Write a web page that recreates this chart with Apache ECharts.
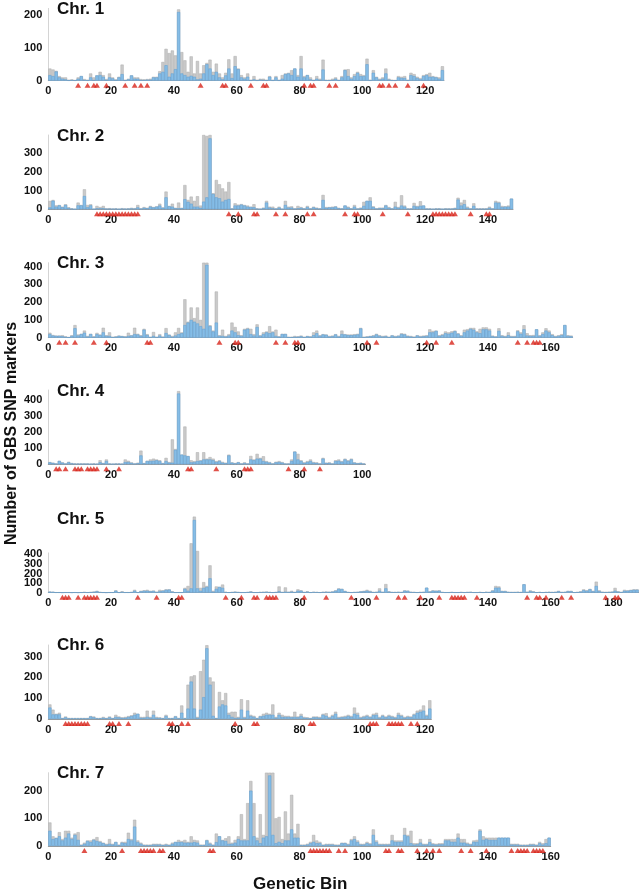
<!DOCTYPE html>
<html><head><meta charset="utf-8">
<script src="https://cdn.jsdelivr.net/npm/echarts@6/dist/echarts.min.js"></script>
<style>html,body{margin:0;padding:0;background:#fff}#c{width:644px;height:893px}</style>
</head><body><div id="c"></div>
<script>
// ---- data: total markers per bin (gray), subset (blue), bins with red triangles ----
const chr1All = [37,34,30,14,10,10,3,4,2,10, 14,5,3,22,10,16,27,17,5,22, 10,4,12,49,3,6,16,10,10,5, 4,5,6,12,12,29,57,97,84,92,
 77,217,87,62,27,74,22,60,22,47, 54,64,27,52,22,10,24,65,22,75, 37,17,10,22,3,14,3,6,6,3, 14,3,14,3,17,22,24,32,37,17,
 75,14,17,10,3,14,6,64,3,3, 6,10,3,14,34,35,10,20,27,20, 17,67,3,32,12,6,10,37,6,3, 2,14,12,14,3,24,20,12,8,17, 20,24,14,12,10,44];
const chr1Sub = [17,14,28,10,6,4,1,2,1,6, 14,2,1,10,2,16,17,12,2,10, 7,2,10,20,1,4,16,6,6,2, 2,3,3,10,10,22,27,47,12,22,
 35,209,22,17,12,15,12,4,6,22, 50,37,17,27,10,4,16,37,8,44, 35,10,6,12,1,4,1,3,2,1, 12,1,10,1,6,20,22,17,37,12,
 37,10,17,4,1,6,2,34,1,1, 2,6,1,10,32,14,6,14,24,14, 14,50,1,24,10,3,6,22,3,1, 1,10,8,8,1,17,14,8,4,14, 17,12,12,10,6,32];
const chr1Tri = [9,12,14,15,18,24,27,29,31,48,55,56,64,68,69,81,83,84,89,91,105,106,108,110,114,119];

const chr2All = [45,50,21,23,14,27,11,5,2,36, 23,107,23,27,3,18,12,18,5,6, 4,5,3,6,4,5,8,6,23,5, 12,8,18,12,16,30,10,95,18,30,
 8,36,8,130,50,68,45,70,20,398, 393,398,86,157,134,112,95,146,5,32, 25,28,23,20,14,27,5,3,9,45, 14,14,5,14,3,45,14,16,5,18,
 12,5,18,5,14,9,5,77,12,12, 14,16,8,5,20,14,5,23,5,9, 40,45,64,16,5,9,9,23,12,5, 40,12,75,20,5,5,34,18,43,20,
 5,5,3,5,5,3,5,5,5,8, 62,36,50,14,5,32,5,5,5,5, 14,5,45,40,18,16,20,57];
const chr2Sub = [10,46,14,21,11,23,7,3,1,21, 21,71,11,21,1,5,5,5,2,3, 2,3,1,3,2,3,4,3,10,2, 8,5,14,10,14,20,8,64,16,14,
 5,5,5,54,40,30,14,14,8,41, 64,380,82,64,59,41,50,55,2,20, 20,25,20,14,12,11,2,1,5,36, 9,5,2,9,1,23,9,9,2,5,
 8,3,12,3,10,5,3,50,8,10, 10,14,5,3,20,9,3,14,2,5, 18,45,45,12,3,5,5,20,8,3, 14,8,20,14,2,2,18,14,18,20,
 2,2,1,3,3,1,3,2,2,5, 52,20,27,8,2,18,2,2,2,2, 8,2,36,34,12,14,14,57];
const chr2Tri = [15,16,17,18,19,20,21,22,23,24,25,26,27,28,57,60,65,66,72,75,82,84,94,97,98,106,114,122,123,124,125,126,127,128,129,134,139,140];

const chr3All = [28,15,12,12,14,8,4,14,71,18, 22,40,10,22,8,27,18,56,14,30, 5,8,12,10,8,28,14,56,22,14, 50,20,5,32,5,20,6,54,18,10,
 30,55,30,216,90,170,110,170,100,422, 422,70,40,260,14,45,10,20,85,60, 35,14,50,55,50,20,75,14,30,35, 65,35,45,8,22,22,5,5,10,8,
 12,5,10,8,30,40,14,20,18,10, 12,20,10,40,20,18,18,20,22,55, 5,8,10,14,22,14,10,12,5,14, 10,12,25,22,12,10,6,14,10,12,
 14,47,38,40,14,20,35,30,36,40, 25,14,45,48,55,55,36,50,58,58, 50,12,8,53,14,10,30,10,10,42, 30,70,25,14,15,47,14,30,53,40,
 20,10,14,20,71,14,12];
const chr3Sub = [20,12,10,10,8,4,2,10,53,12, 20,28,6,20,4,20,14,30,10,10, 3,5,10,8,5,10,12,20,18,10, 45,15,3,10,3,12,4,26,14,5,
 12,20,25,71,85,100,90,80,65,50, 410,65,35,85,10,10,6,12,40,30, 14,10,45,50,20,12,60,10,20,30, 25,30,10,5,20,20,3,3,5,5,
 8,3,8,5,14,25,10,18,16,6, 8,18,6,20,18,14,14,16,18,52, 3,5,8,10,18,10,6,8,3,12, 6,10,20,18,8,6,3,12,6,8,
 10,30,30,38,10,14,25,22,28,36, 22,10,30,40,50,45,30,25,47,47, 40,8,5,38,10,6,14,6,6,36, 22,47,12,10,10,47,10,20,40,30,
 14,6,10,14,71,10,8];
const chr3Tri = [3,5,8,14,18,31,32,54,59,60,72,75,78,79,101,104,120,123,128,149,152,154,155,156];

const chr4All = [14,10,5,22,12,5,16,8,5,5, 5,5,5,3,5,3,25,8,30,5, 3,5,5,3,30,22,12,5,10,85, 8,22,30,35,30,25,8,40,14,155,
 95,455,60,235,52,25,20,75,25,75, 35,45,35,20,25,15,10,60,12,8, 14,5,12,5,52,30,65,40,50,20, 14,5,16,20,14,5,5,30,80,65,
 25,12,20,30,14,12,5,40,10,12, 5,25,30,20,35,25,35,12,8,10, 5];
const chr4Sub = [12,8,3,20,10,3,12,5,3,3, 3,3,3,2,3,2,12,5,20,3, 2,3,3,2,14,14,8,3,6,55, 5,20,20,22,25,20,5,20,10,10,
 90,440,60,55,50,12,14,20,22,30, 30,30,25,15,20,10,6,55,10,5, 12,3,8,3,30,25,35,35,20,15, 10,3,12,14,10,3,3,20,78,30,
 20,8,14,20,10,8,3,35,8,8, 3,20,22,16,30,20,30,10,5,8, 3];
const chr4Tri = [2,3,5,8,9,10,12,13,14,15,18,22,44,45,53,62,63,64,76,81,86];

const chr5All = [12,10,5,5,3,5,5,3,5,3, 5,8,5,8,12,20,8,5,3,5, 5,25,5,15,5,5,8,30,5,20, 25,30,20,22,10,30,25,35,35,15,
 5,5,5,50,70,515,793,435,50,110, 70,285,20,65,60,85,10,5,8,12, 8,5,5,8,15,5,5,8,10,12, 8,5,8,65,8,55,10,20,8,35,
 25,8,15,5,10,8,5,10,12,10, 14,25,45,40,20,8,5,8,10,15, 20,30,20,8,10,45,10,90,15,8, 8,10,8,25,22,10,8,5,8,10,
 52,15,25,22,25,8,5,5,8,5, 5,8,5,8,10,5,5,8,5,10, 8,25,70,65,20,20,10,8,8,10, 8,87,10,25,15,5,8,5,8,10,
 8,10,20,8,10,20,20,5,8,15, 35,25,40,20,115,25,10,8,10,12, 50,15,8,30,25,30,35,35];
const chr5Sub = [10,8,3,3,2,3,3,2,3,2, 3,5,3,5,8,14,5,3,2,3, 3,20,3,8,3,3,5,20,3,14, 20,20,14,18,6,14,20,30,32,10,
 3,3,3,40,20,45,758,45,20,50, 60,150,10,40,60,50,5,3,5,8, 5,3,3,5,10,3,3,5,6,8, 5,3,5,15,5,10,6,10,5,20,
 20,5,10,3,6,5,3,6,8,6, 10,20,40,38,15,5,3,5,6,12, 14,20,12,5,6,20,6,45,10,5, 5,6,5,20,18,6,5,3,5,6,
 52,10,20,18,20,5,3,3,5,3, 3,5,3,5,6,3,3,5,3,6, 5,20,52,52,15,14,6,5,5,6, 5,87,6,15,10,3,5,3,5,6,
 5,6,14,5,6,14,14,3,5,10, 25,20,35,14,70,15,6,5,6,8, 20,10,5,20,20,25,30,30];
const chr5Tri = [4,5,6,9,11,12,13,14,15,28,34,41,42,56,61,65,66,69,70,71,72,81,88,96,104,111,113,118,124,128,129,130,131,132,136,152,155,156,158,163,166,177,180,181];

const chr6All = [70,45,25,30,5,12,5,5,5,5, 5,5,5,14,12,5,5,10,5,12, 5,20,12,8,10,14,18,30,25,10, 10,40,10,40,10,8,5,20,5,5,
 14,5,65,5,165,205,210,10,230,285, 355,200,180,5,130,90,125,30,35,35, 10,95,10,90,20,15,5,15,25,30, 25,70,10,30,20,15,15,12,35,12,
 25,10,8,5,12,12,10,25,28,10, 20,35,10,12,15,20,15,55,30,10, 15,20,12,25,30,10,20,12,20,15, 10,30,20,10,15,12,25,40,45,65, 20,90];
const chr6Sub = [55,22,22,22,3,8,3,3,3,3, 3,3,3,12,8,3,3,6,3,8, 3,10,8,5,6,10,14,20,25,6, 6,10,6,20,6,5,3,14,3,3,
 12,3,30,3,50,180,50,6,45,105, 340,165,15,3,60,70,65,20,10,5, 6,45,6,40,14,10,3,12,15,20, 20,20,6,20,10,10,10,8,10,8,
 15,6,5,3,8,8,6,20,15,6, 14,25,6,8,10,14,10,25,20,6, 10,14,8,18,20,6,15,8,14,10, 6,20,14,6,10,8,20,30,35,40, 14,50];
const chr6Tri = [5,6,7,8,9,10,11,12,19,20,22,25,38,39,42,44,59,65,66,83,84,102,103,104,108,109,110,111,112,115,117];

const chr7All = [85,35,30,50,25,55,55,30,45,50, 5,12,20,20,25,32,18,12,8,25, 8,15,5,15,15,48,25,95,20,12, 5,5,5,8,8,8,5,8,5,12,
 15,22,18,22,15,35,22,20,5,5, 22,12,5,45,35,22,28,35,12,22, 35,115,25,155,235,155,30,115,40,265, 265,265,100,105,25,125,45,185,45,80,
 5,5,8,15,40,20,15,5,8,8, 8,5,5,12,12,8,25,35,20,8, 8,15,10,60,20,8,8,8,8,40, 20,20,20,65,40,55,10,10,25,8,
 8,25,10,8,10,10,25,25,25,25, 45,25,25,12,8,20,22,60,35,30, 30,30,30,30,30,30,30,8,8,8, 5,5,5,8,8,5,15,10,25,30];
const chr7Sub = [55,25,28,35,20,30,45,25,40,22, 3,8,18,14,22,18,14,10,5,8, 5,14,3,12,10,25,20,70,14,8, 3,3,3,5,5,5,3,5,3,8,
 14,14,14,12,12,12,14,12,3,3, 20,8,3,14,35,20,18,8,8,12, 25,20,20,20,200,35,20,10,30,35, 255,40,10,15,10,20,20,60,30,30,
 3,3,5,10,15,10,10,3,5,5, 5,3,3,10,10,5,20,25,14,5, 5,10,6,40,14,5,5,5,5,20, 15,15,15,40,35,10,5,6,12,5,
 5,14,6,5,6,6,20,20,15,15, 30,12,12,8,5,15,15,55,22,25, 22,22,22,30,30,30,30,5,5,5, 3,3,3,5,5,3,10,5,10,30];
const chr7Tri = [11,23,29,30,31,32,33,35,36,51,52,83,84,85,86,87,88,89,92,94,107,108,111,112,117,120,122,124,131,134,139,147,149,150,151,152,154,155,156,157];

const chrNames = ['Chr. 1','Chr. 2','Chr. 3','Chr. 4','Chr. 5','Chr. 6','Chr. 7'];
const xTickStep = 20;
const yTickStep = 100;

// ---- layout ----
const FONT = 'Liberation Sans, Arial, sans-serif';
const PX_PER_BIN = 3.14;
const LEFT = 48.3;
const panels = [
  {all: chr1All, sub: chr1Sub, tri: chr1Tri, yMax: 220, top: 8.4,  zero: 80.7,  titleTop: 0.5},
  {all: chr2All, sub: chr2Sub, tri: chr2Tri, yMax: 398, top: 135,  zero: 209.3, titleTop: 127.5},
  {all: chr3All, sub: chr3Sub, tri: chr3Tri, yMax: 422, top: 262.7,zero: 337.7, titleTop: 255},
  {all: chr4All, sub: chr4Sub, tri: chr4Tri, yMax: 462, top: 390,  zero: 464.3, titleTop: 382.5},
  {all: chr5All, sub: chr5Sub, tri: chr5Tri, yMax: 415, top: 552.9,zero: 592.7, titleTop: 510.5, split: true},
  {all: chr6All, sub: chr6Sub, tri: chr6Tri, yMax: 356, top: 645,  zero: 719,   titleTop: 636.5},
  {all: chr7All, sub: chr7Sub, tri: chr7Tri, yMax: 265, top: 772.7,zero: 846,   titleTop: 764.5}
];

const labelStyle = {fontFamily: FONT, fontWeight: 'bold', fontSize: 11, color: '#111', hideOverlap: false};
const grid = [], xAxis = [], yAxis = [], series = [], title = [], extraY = [];
panels.forEach((p, i) => {
  const n = p.all.length;
  grid.push({left: LEFT, top: p.top, width: n * PX_PER_BIN, height: p.zero - p.top, containLabel: false});
  xAxis.push({gridIndex: i, type: 'value', min: 0, max: n, interval: xTickStep,
    axisLine: {show: true, lineStyle: {color: '#9a9a9a', width: 1}}, axisTick: {show: false}, splitLine: {show: false},
    axisLabel: Object.assign({margin: 5, showMinLabel: true, formatter: v => (v % xTickStep === 0 ? String(v) : '')}, labelStyle)});
  const step = p.split ? 2 * yTickStep : yTickStep;
  yAxis.push({gridIndex: i, type: 'value', min: 0, max: p.yMax, interval: step,
    axisLine: {show: true, lineStyle: {color: '#d4d4d4', width: 1}}, axisTick: {show: false}, splitLine: {show: false},
    axisLabel: Object.assign({margin: 6, showMinLabel: true, formatter: v => (v % step === 0 ? String(v) : '')}, labelStyle)});
  if (p.split) {
    // dense tick labels: odd hundreds on an overlaid axis so none are auto-hidden
    extraY.push({gridIndex: i, type: 'value', min: 0, max: p.yMax, interval: yTickStep, position: 'left', offset: 0,
      axisLine: {show: false}, axisTick: {show: false}, splitLine: {show: false},
      axisLabel: Object.assign({margin: 6, showMinLabel: false, showMaxLabel: false,
        formatter: v => (v % step === yTickStep ? String(v) : '')}, labelStyle)});
  }
  title.push({text: chrNames[i], left: 57, top: p.titleTop, padding: 0,
    textStyle: {fontFamily: FONT, fontWeight: 'bold', fontSize: 17, color: '#111'}});
  series.push({type: 'bar', xAxisIndex: i, yAxisIndex: i, barWidth: PX_PER_BIN, barGap: '-100%', clip: false,
    data: p.all.map((v, j) => [j + 0.5, v]),
    itemStyle: {color: '#cacaca', borderColor: '#adadad', borderWidth: 0.5}, z: 2});
  series.push({type: 'bar', xAxisIndex: i, yAxisIndex: i, barWidth: PX_PER_BIN, barGap: '-100%', clip: false,
    data: p.sub.map((v, j) => [j + 0.5, v]),
    itemStyle: {color: '#86bde6', borderColor: '#5f9fd3', borderWidth: 0.5}, z: 3});
  series.push({type: 'scatter', xAxisIndex: i, yAxisIndex: i, clip: false, symbol: 'triangle',
    symbolSize: [6, 5], symbolOffset: [0, 4.5],
    data: p.tri.map(b => [b + 0.5, 0]), itemStyle: {color: '#d8261b'}, z: 5});
});
extraY.forEach(a => yAxis.push(a));

const chart = echarts.init(document.getElementById('c'), null, {renderer: 'canvas'});
chart.setOption({
  animation: false, backgroundColor: '#fff',
  title, grid, xAxis, yAxis, series,
  graphic: [
    {type: 'text', left: 300 - 47, top: 876, style: {text: 'Genetic Bin', font: 'bold 17px ' + FONT, fill: '#111'}},
    {type: 'text', x: 4, y: 545, rotation: Math.PI / 2,
      style: {text: 'Number of GBS SNP markers', font: 'bold 16px ' + FONT, fill: '#111', textAlign: 'left', textVerticalAlign: 'top'}}
  ]
});
</script></body></html>
